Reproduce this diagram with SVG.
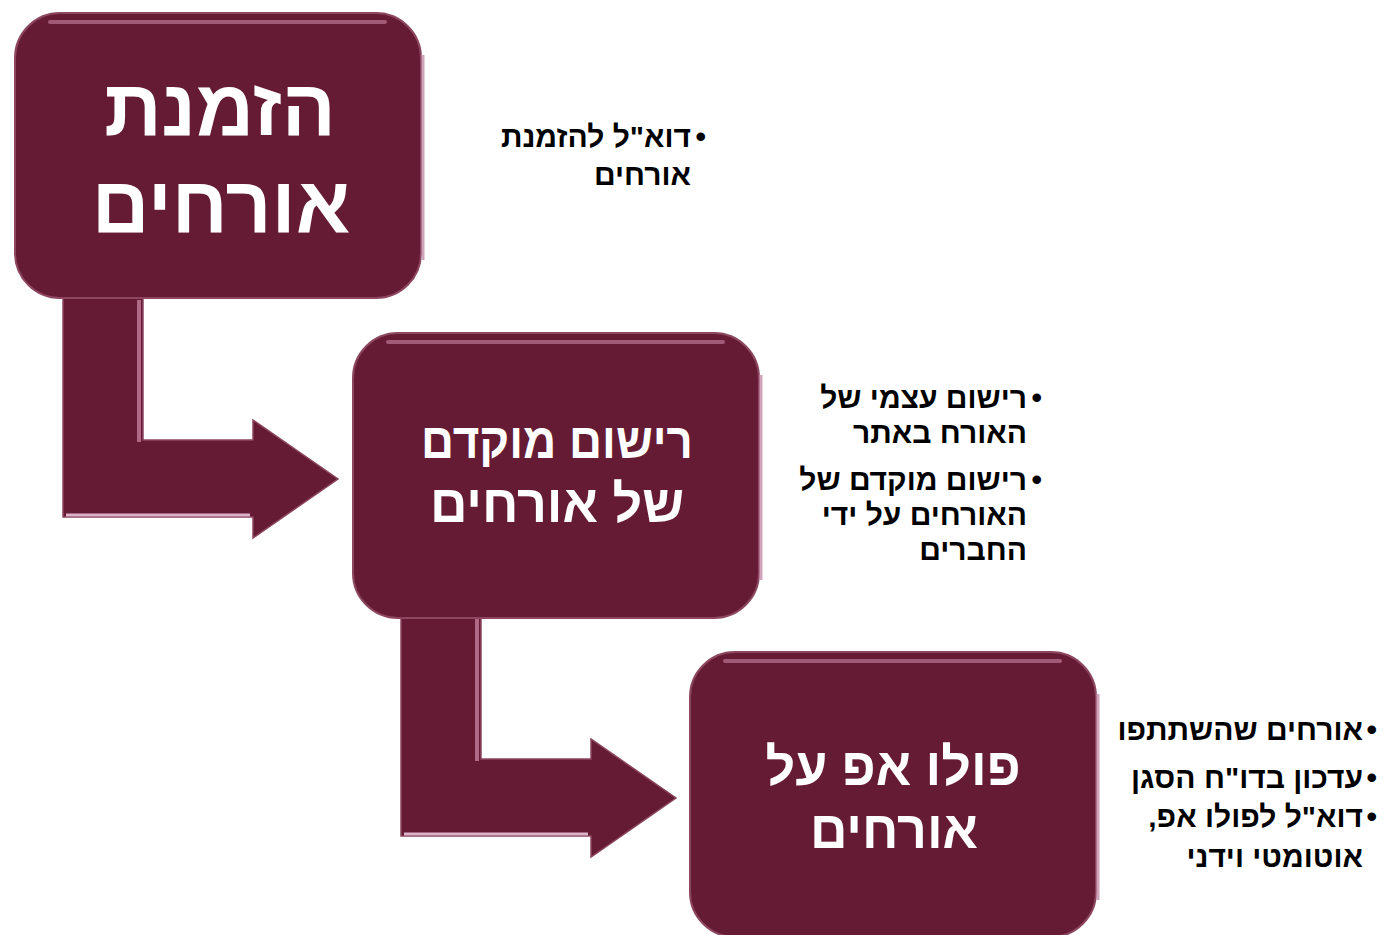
<svg xmlns="http://www.w3.org/2000/svg" width="1384" height="935" viewBox="0 0 1384 935">
<style>
.box{fill:#661b35;stroke:#8c4660;stroke-width:2}
.rim{fill:none;stroke:#b06a86;stroke-width:4;stroke-linecap:round;opacity:0.8}
.rim2{fill:none;stroke:#cfa3b8;stroke-width:3}
.arrow{fill:#661b35;stroke:#8c4660;stroke-width:1.5}
.hl{fill:none;stroke:#b06a86;stroke-width:4}
.hlb{fill:none;stroke:#dcb3c8;stroke-width:3}
.big{font-family:"Liberation Sans","DejaVu Sans",sans-serif;fill:#ffffff;text-anchor:middle;font-weight:bold}
.bul{font-family:"Liberation Sans","DejaVu Sans",sans-serif;fill:#000000;font-size:30px;font-weight:bold}
</style>
<rect width="1384" height="935" fill="#ffffff"/>
<g id="connectors">
  <g id="arrow1">
    <path class="arrow" d="M63,298 L143,298 L143,440 L253,440 L253,420 L338,479 L253,538 L253,517 L63,517 Z"/>
    <path class="hl" d="M139,300 L139,442"/>
    <path class="hlb" d="M66,515 L250,515"/>
  </g>
  <g id="arrow2">
    <path class="arrow" d="M401,617 L481,617 L481,759 L591,759 L591,739 L676,798 L591,857 L591,836 L401,836 Z"/>
    <path class="hl" d="M477,619 L477,761"/>
    <path class="hlb" d="M404,834 L588,834"/>
  </g>
</g>
<g id="node1">
  <rect class="box" x="15" y="13" width="406" height="285" rx="45"/>
  <path class="rim" d="M50,22 L385,22"/>
  <path class="rim2" d="M423,55 L423,260"/>
  <text class="big" font-size="80" x="220" y="135" direction="rtl">הזמנת</text>
  <text class="big" font-size="80" x="221" y="232" direction="rtl">אורחים</text>
</g>
<g id="node2">
  <rect class="box" x="353" y="333" width="406" height="285" rx="45"/>
  <path class="rim" d="M388,342 L723,342"/>
  <path class="rim2" d="M761,375 L761,580"/>
  <text class="big" font-size="50" x="557" y="458" direction="rtl" textLength="272" lengthAdjust="spacingAndGlyphs">רישום מוקדם</text>
  <text class="big" font-size="52" x="557" y="522" direction="rtl">של אורחים</text>
</g>
<g id="node3">
  <rect class="box" x="690" y="652" width="406" height="285" rx="45"/>
  <path class="rim" d="M725,661 L1060,661"/>
  <path class="rim2" d="M1098,694 L1098,900"/>
  <text class="big" font-size="52" x="893" y="785" direction="rtl">פולו אפ על</text>
  <text class="big" font-size="52" x="894" y="848" direction="rtl">אורחים</text>
</g>
<g id="notes1">
  <text class="bul" x="706" y="147" text-anchor="end">•</text>
  <text class="bul" x="691" y="147" direction="rtl">דוא"ל להזמנת</text>
  <text class="bul" x="691" y="185" direction="rtl">אורחים</text>
</g>
<g id="notes2">
  <text class="bul" x="1042" y="408" text-anchor="end">•</text>
  <text class="bul" x="1027" y="408" direction="rtl">רישום עצמי של</text>
  <text class="bul" x="1027" y="443" direction="rtl">האורח באתר</text>
  <text class="bul" x="1042" y="490" text-anchor="end">•</text>
  <text class="bul" x="1027" y="490" direction="rtl">רישום מוקדם של</text>
  <text class="bul" x="1027" y="525" direction="rtl">האורחים על ידי</text>
  <text class="bul" x="1027" y="560" direction="rtl">החברים</text>
</g>
<g id="notes3">
  <text class="bul" x="1377" y="740" text-anchor="end">•</text>
  <text class="bul" x="1363" y="740" direction="rtl">אורחים שהשתתפו</text>
  <text class="bul" x="1377" y="788" text-anchor="end">•</text>
  <text class="bul" x="1363" y="788" direction="rtl">עדכון בדו"ח הסגן</text>
  <text class="bul" x="1377" y="827" text-anchor="end">•</text>
  <text class="bul" x="1363" y="827" direction="rtl">דוא"ל לפולו אפ,</text>
  <text class="bul" x="1363" y="867" direction="rtl">אוטומטי וידני</text>
</g>
</svg>
